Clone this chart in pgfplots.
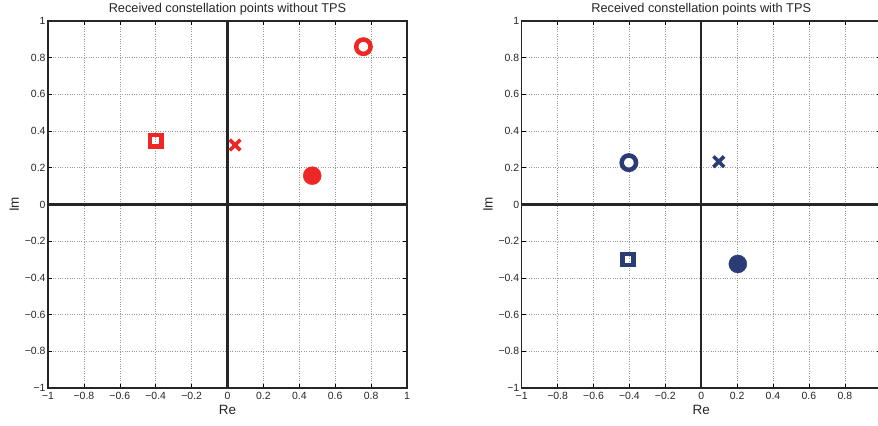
\documentclass[border=0pt]{standalone}
\usepackage{fontspec}
\setmainfont{Liberation Sans}
\usepackage{pgfplots}
\pgfplotsset{compat=1.18}
\definecolor{myred}{RGB}{237,38,38}
\definecolor{mynavy}{RGB}{42,60,118}
\pgfplotsset{
 myax/.style={
  scale only axis, width=359bp, height=367bp, anchor=south west,
  xmin=-1,xmax=1,ymin=-1,ymax=1,
  xtick={-1,-0.8,-0.6,-0.4,-0.2,0,0.2,0.4,0.6,0.8,1},
  xticklabels={−1,−0.8,−0.6,−0.4,−0.2,0,0.2,0.4,0.6,0.8,1},
  ytick={-1,-0.8,-0.6,-0.4,-0.2,0,0.2,0.4,0.6,0.8,1},
  yticklabels={−1,−0.8,−0.6,−0.4,−0.2,0,0.2,0.4,0.6,0.8,1},
  grid=major, major grid style={dotted, gray!80, line width=0.6bp},
  tick align=inside, major tick length=4bp, tick style={black, line width=0.6bp},
  axis line style={line width=1.2bp, black!85},
  ticklabel style={font=\fontsize{10.5}{12}\selectfont, text=black!85},
  xticklabel style={yshift=-1bp},
  yticklabel style={xshift=1bp},
  xlabel=Re, ylabel=Im, label style={font=\fontsize{13.5}{15}\selectfont, text=black!85},
  xlabel style={yshift=2bp},
  ylabel style={yshift=-1bp},
  title style={font=\fontsize{12.8}{14}\selectfont, text=black!85, yshift=-4bp},
  clip=false,
 }
}
\begin{document}
\begin{tikzpicture}
\begin{axis}[myax, at={(48bp,38bp)}, title={Received constellation points without TPS}]
\addplot[black!85, line width=2.5bp] coordinates {(-1,0) (1,0)};
\addplot[black!85, line width=2.5bp] coordinates {(0,-1) (0,1)};
\addplot[only marks, mark=square, mark size=5.65bp, myred, line width=4.6bp, mark options={fill=white}] coordinates {(-0.40,0.348)};
\addplot[only marks, mark=x, mark size=7.5bp, myred, line width=3.6bp] coordinates {(0.042,0.324)};
\addplot[only marks, mark=*, mark size=9bp, myred] coordinates {(0.472,0.157)};
\addplot[only marks, mark=*, mark size=7.2bp, myred, line width=4.5bp, mark options={fill=white}] coordinates {(0.757,0.86)};
\end{axis}
\begin{axis}[myax, at={(521.7bp,38bp)}, title={Received constellation points with TPS}]
\addplot[black!85, line width=2.5bp] coordinates {(-1,0) (1,0)};
\addplot[black!85, line width=2.5bp] coordinates {(0,-1) (0,1)};
\addplot[only marks, mark=*, mark size=7.2bp, mynavy, line width=4.5bp, mark options={fill=white}] coordinates {(-0.403,0.228)};
\addplot[only marks, mark=x, mark size=7.5bp, mynavy, line width=3.6bp] coordinates {(0.098,0.233)};
\addplot[only marks, mark=square, mark size=5.65bp, mynavy, line width=4.6bp, mark options={fill=white}] coordinates {(-0.408,-0.30)};
\addplot[only marks, mark=*, mark size=9bp, mynavy] coordinates {(0.204,-0.324)};
\end{axis}
\pgfresetboundingbox
\useasboundingbox (0,0) rectangle (878bp,426bp);
\end{tikzpicture}
\end{document}
